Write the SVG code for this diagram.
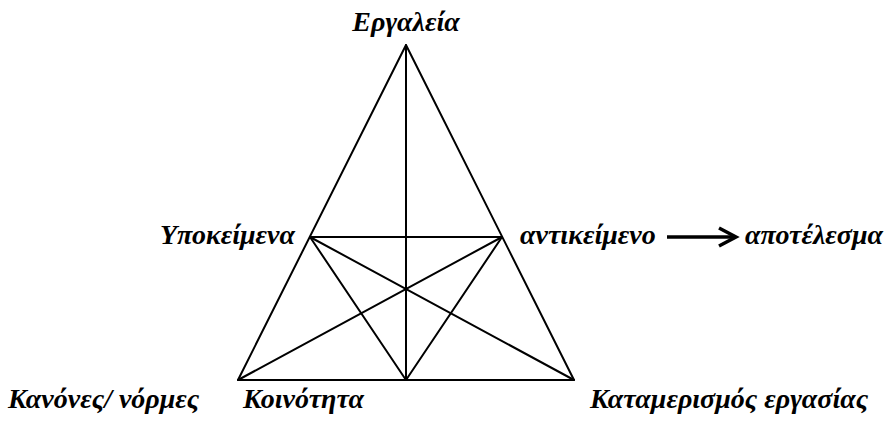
<svg xmlns="http://www.w3.org/2000/svg" width="887" height="421" viewBox="0 0 887 421">
<style>
.t{font-family:"Liberation Serif","DejaVu Serif",serif;font-weight:bold;font-style:italic;font-size:28px;fill:#000}
.l{stroke:#000;stroke-width:2;fill:none;stroke-linecap:round;stroke-linejoin:round}
</style>
<rect width="887" height="421" fill="#fff"/>
<g id="connectors">
<polygon class="l" points="406,45 238,380 574,380"/>
<line class="l" x1="406" y1="45" x2="406" y2="380"/>
<line class="l" x1="310" y1="237" x2="502" y2="237"/>
<line class="l" x1="310" y1="237" x2="406" y2="380"/>
<line class="l" x1="310" y1="237" x2="574" y2="380"/>
<line class="l" x1="502" y1="237" x2="406" y2="380"/>
<line class="l" x1="502" y1="237" x2="238" y2="380"/>
<g id="arrow">
<line x1="667" y1="237" x2="734" y2="237" stroke="#000" stroke-width="3.5"/>
<polyline points="719,228 736,237 719,246" stroke="#000" stroke-width="3.5" fill="none"/>
</g>
</g>
<g id="tools"><text class="t" x="406" y="31" text-anchor="middle">Εργαλεία</text></g>
<g id="subject"><text class="t" x="295" y="244" text-anchor="end">Υποκείμενα</text></g>
<g id="object"><text class="t" x="520" y="244">αντικείμενο</text></g>
<g id="outcome"><text class="t" x="745" y="244">αποτέλεσμα</text></g>
<g id="rules"><text class="t" x="8" y="408">Κανόνες/ νόρμες</text></g>
<g id="community"><text class="t" x="243" y="408">Κοινότητα</text></g>
<g id="division"><text class="t" x="590" y="408">Καταμερισμός εργασίας</text></g>
</svg>
